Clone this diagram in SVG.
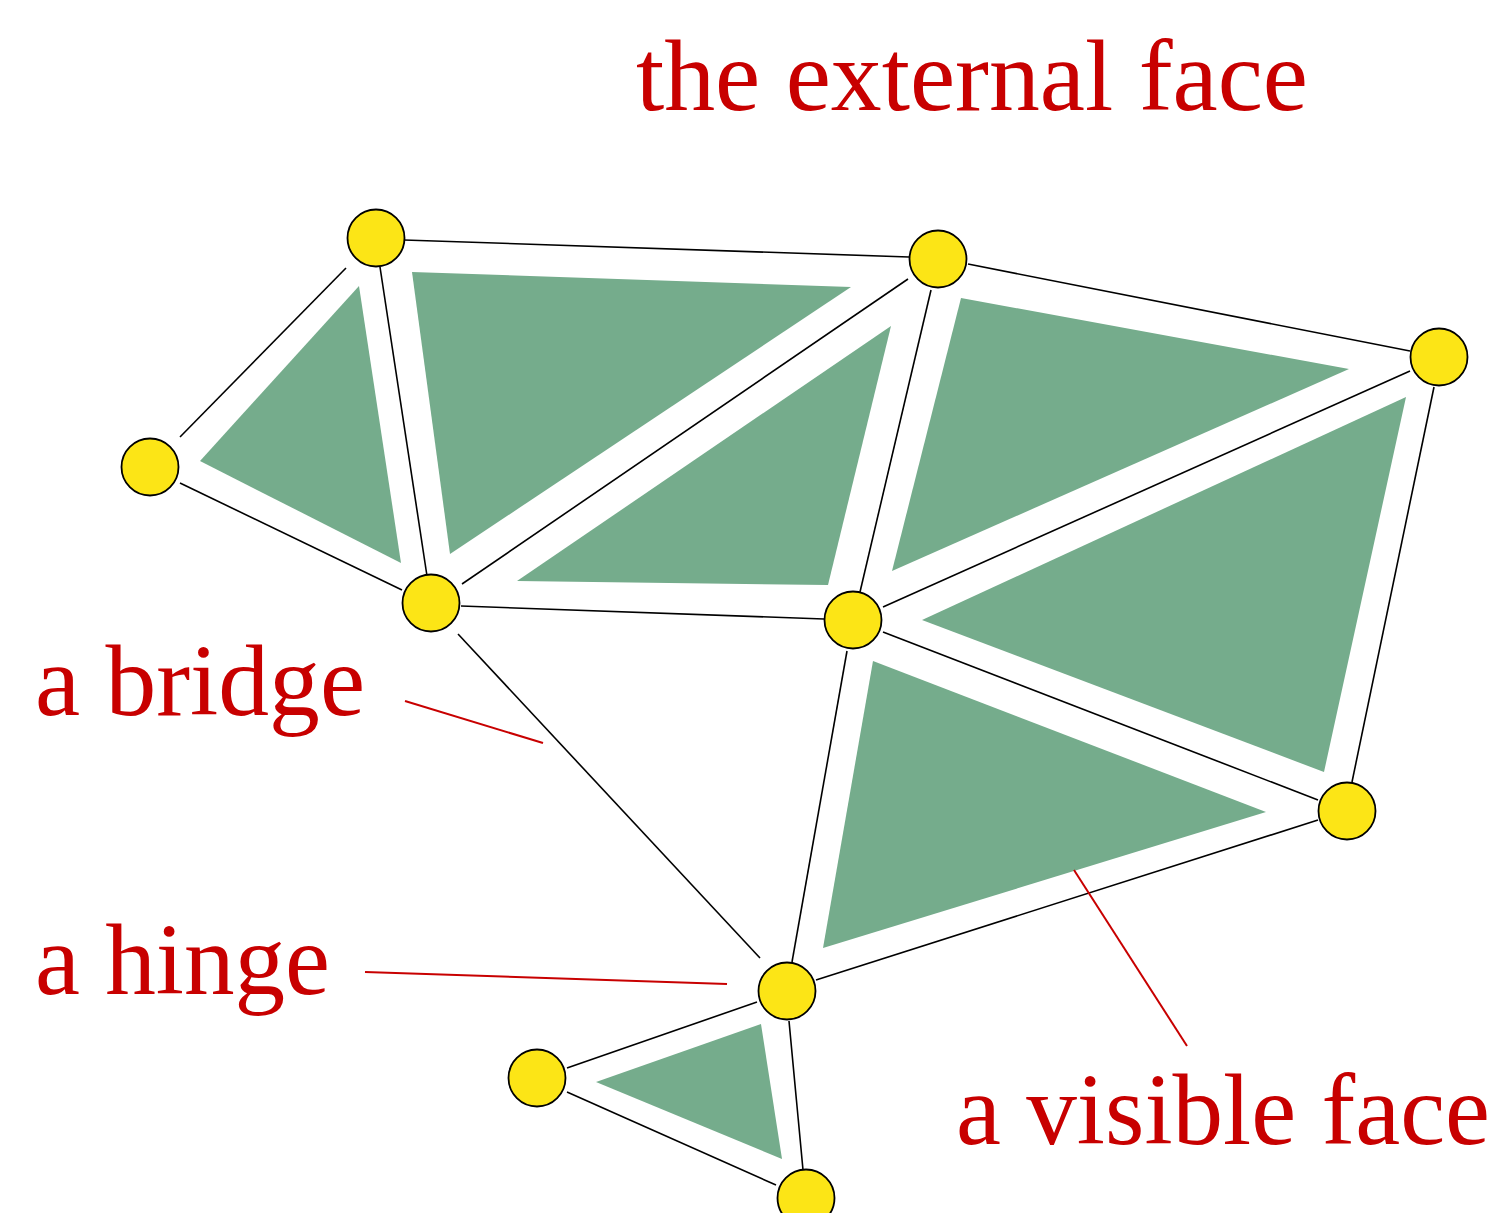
<svg xmlns="http://www.w3.org/2000/svg" width="1488" height="1213" viewBox="0 0 1488 1213">
<style>
.face{fill:#75ac8c;stroke:none}
.edge{stroke:#000;stroke-width:1.6;fill:none;stroke-linecap:butt}
.node{fill:#fce516;stroke:#000;stroke-width:1.8}
.lbl{font-family:"Liberation Serif","Times New Roman",serif;font-size:101px;fill:#c80000}
.ptr{stroke:#c80000;stroke-width:2;fill:none}
</style>
<rect width="1488" height="1213" fill="#fff"/>
<g id="faces">
<polygon class="face" points="359,286 200,461 401,563"/>
<polygon class="face" points="412,272 851,287 450,554"/>
<polygon class="face" points="891,326 517,581 828,585"/>
<polygon class="face" points="961,298 1349,369 892,571"/>
<polygon class="face" points="1406,397 922,620 1324,772"/>
<polygon class="face" points="873,661 1266,812 823,948"/>
<polygon class="face" points="761,1024 596,1082 782,1159"/>
</g>
<g id="connectors">
<line class="edge" x1="404" y1="240" x2="909" y2="257"/>
<line class="edge" x1="968" y1="264" x2="1410" y2="351"/>
<line class="edge" x1="346" y1="268" x2="180" y2="437"/>
<line class="edge" x1="180" y1="483" x2="402" y2="590"/>
<line class="edge" x1="380" y1="267" x2="427" y2="576"/>
<line class="edge" x1="462" y1="584" x2="908" y2="279"/>
<line class="edge" x1="461" y1="606" x2="824" y2="619"/>
<line class="edge" x1="931" y1="290" x2="860" y2="592"/>
<line class="edge" x1="883" y1="607" x2="1410" y2="371"/>
<line class="edge" x1="1434" y1="387" x2="1352" y2="782"/>
<line class="edge" x1="883" y1="632" x2="1318" y2="800"/>
<line class="edge" x1="847" y1="651" x2="792" y2="962"/>
<line class="edge" x1="816" y1="980" x2="1318" y2="820"/>
<line class="edge" x1="458" y1="634" x2="760" y2="958"/>
<line class="edge" x1="757" y1="1002" x2="567" y2="1068"/>
<line class="edge" x1="567" y1="1092" x2="776" y2="1185"/>
<line class="edge" x1="789" y1="1021" x2="803" y2="1170"/>
</g>
<g id="pointers">
<line class="ptr" x1="405" y1="701" x2="543" y2="743"/>
<line class="ptr" x1="365" y1="972" x2="727" y2="984"/>
<line class="ptr" x1="1074" y1="870" x2="1187" y2="1046"/>
</g>
<g id="nodeA"><circle class="node" cx="376" cy="238" r="28.5"/></g>
<g id="nodeB"><circle class="node" cx="938" cy="259" r="28.5"/></g>
<g id="nodeC"><circle class="node" cx="1439" cy="357" r="28.5"/></g>
<g id="nodeD"><circle class="node" cx="150" cy="467" r="28.5"/></g>
<g id="nodeE"><circle class="node" cx="431" cy="603" r="28.5"/></g>
<g id="nodeF"><circle class="node" cx="853" cy="620" r="28.5"/></g>
<g id="nodeG"><circle class="node" cx="1347" cy="811" r="28.5"/></g>
<g id="nodeH"><circle class="node" cx="787" cy="991" r="28.5"/></g>
<g id="nodeI"><circle class="node" cx="537" cy="1078" r="28.5"/></g>
<g id="nodeJ"><circle class="node" cx="806" cy="1198" r="28.5"/></g>
<g id="labels">
<text class="lbl" x="636" y="110" textLength="672" lengthAdjust="spacingAndGlyphs">the external face</text>
<text class="lbl" x="35" y="715" textLength="330" lengthAdjust="spacingAndGlyphs">a bridge</text>
<text class="lbl" x="35" y="994" textLength="295" lengthAdjust="spacingAndGlyphs">a hinge</text>
<text class="lbl" x="956" y="1144" textLength="534" lengthAdjust="spacingAndGlyphs">a visible face</text>
</g>
</svg>
